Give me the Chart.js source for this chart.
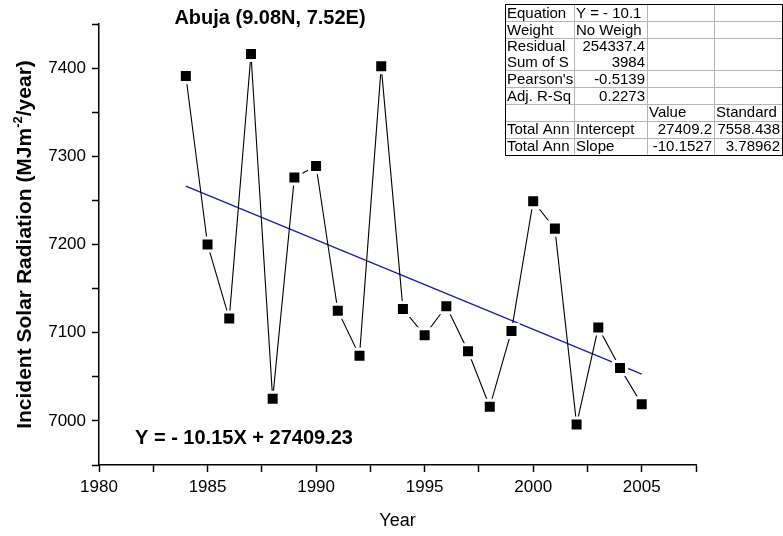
<!DOCTYPE html>
<html>
<head>
<meta charset="utf-8">
<script src="https://cdn.jsdelivr.net/npm/chart.js@4.4.1/dist/chart.umd.min.js"></script>
<style>
  html, body { margin: 0; padding: 0; background: #fff; }
  #wrap { width: 783px; height: 536px; position: relative; }
</style>
</head>
<body>
<div id="wrap"><canvas id="chart"></canvas></div>
<script>
// data
const years = [1984, 1985, 1986, 1987, 1988, 1989, 1990, 1991, 1992, 1993, 1994,
               1995, 1996, 1997, 1998, 1999, 2000, 2001, 2002, 2003, 2004, 2005];
const radiation = [7391, 7200, 7116, 7416, 7025, 7276, 7289, 7125, 7074, 7402, 7127,
                   7097, 7130, 7079, 7016, 7102, 7249, 7218, 6996, 7106, 7060, 7019];
// linear fit end points
const fitYears = [1984, 2005];
const fitValues = [7266.2, 7053.0];

const xRange = [1980, 2007.5];
const yRange = [6950, 7450];

const titleText = 'Abuja (9.08N, 7.52E)';
const xTitle = 'Year';
const yTitleParts = ['Incident Solar Radiation (MJm', '-2', '/year)'];
const equationText = 'Y = - 10.15X + 27409.23';

// fit report table (cells are clipped like in the original)
const tableRows = [
  ['Equation', 'Y = - 10.1', '', ''],
  ['Weight', 'No Weigh', '', ''],
  ['Residual\nSum of S', '254337.4\n3984', '', ''],
  ["Pearson's", '-0.5139', '', ''],
  ['Adj. R-Sq', '0.2273', '', ''],
  ['', '', 'Value', 'Standard'],
  ['Total Ann', 'Intercept', '27409.2', '7558.438'],
  ['Total Ann', 'Slope', '-10.1527', '3.78962']
];
const tableCols = [505, 574, 647, 714, 782];
const tableLines = [4, 21, 38, 70, 87, 104, 120.5, 137.5, 154.5];

const FONT = "'Liberation Sans', Arial, sans-serif";
Chart.defaults.font.family = FONT;
Chart.defaults.color = '#000';

const extras = {
  id: 'extras',
  afterDraw(chart) {
    const ctx = chart.ctx;
    const area = chart.chartArea;
    ctx.save();
    ctx.fillStyle = '#000';

    // title
    ctx.font = 'bold 20px ' + FONT;
    ctx.textAlign = 'center';
    ctx.textBaseline = 'middle';
    ctx.fillText(titleText, 270, 18);

    // x title
    ctx.font = '18px ' + FONT;
    ctx.fillText(xTitle, (area.left + area.right) / 2, 521);

    // y title with superscript
    ctx.save();
    ctx.translate(31, (area.top + area.bottom) / 2);
    ctx.rotate(-Math.PI / 2);
    ctx.textAlign = 'left';
    ctx.textBaseline = 'alphabetic';
    const big = 'bold 21px ' + FONT, small = 'bold 13px ' + FONT;
    ctx.font = big;
    const w0 = ctx.measureText(yTitleParts[0]).width;
    const w2 = ctx.measureText(yTitleParts[2]).width;
    ctx.font = small;
    const w1 = ctx.measureText(yTitleParts[1]).width;
    let x = -(w0 + w1 + w2) / 2;
    ctx.font = big;
    ctx.fillText(yTitleParts[0], x, 0);
    x += w0;
    ctx.font = small;
    ctx.fillText(yTitleParts[1], x, -9);
    x += w1;
    ctx.font = big;
    ctx.fillText(yTitleParts[2], x, 0);
    ctx.restore();

    // equation
    ctx.font = 'bold 20px ' + FONT;
    ctx.textAlign = 'left';
    ctx.textBaseline = 'middle';
    ctx.fillText(equationText, 135, 438);

    // table
    const tTop = tableLines[0], tBottom = tableLines[tableLines.length - 1];
    ctx.fillStyle = '#fff';
    ctx.fillRect(tableCols[0], tTop, tableCols[4] - tableCols[0], tBottom - tTop);
    ctx.strokeStyle = '#b4b4b4';
    ctx.lineWidth = 1;
    tableLines.forEach(y => {
      ctx.beginPath();
      ctx.moveTo(tableCols[0], Math.round(y) + 0.5);
      ctx.lineTo(tableCols[4], Math.round(y) + 0.5);
      ctx.stroke();
    });
    tableCols.forEach(c => {
      ctx.beginPath();
      ctx.moveTo(c + 0.5, tTop);
      ctx.lineTo(c + 0.5, tBottom);
      ctx.stroke();
    });
    ctx.strokeStyle = '#000';
    ctx.strokeRect(tableCols[0] + 0.5, tTop + 0.5, tableCols[4] - tableCols[0], Math.round(tBottom - tTop));

    ctx.font = '15px ' + FONT;
    ctx.fillStyle = '#000';
    ctx.textBaseline = 'middle';
    tableRows.forEach((row, r) => {
      const top = tableLines[r], bottom = tableLines[r + 1];
      row.forEach((cell, c) => {
        if (!cell) return;
        const left = tableCols[c], right = tableCols[c + 1];
        const lines = cell.split('\n');
        const numeric = c > 0 && /^-?[0-9.]+$/.test(lines[lines.length - 1]);
        ctx.save();
        ctx.beginPath();
        ctx.rect(left + 1, top + 1, right - left - 1, bottom - top - 1);
        ctx.clip();
        const lh = (bottom - top) / lines.length;
        lines.forEach((t, k) => {
          const y = top + lh * (k + 0.5) + 1;
          if (numeric) {
            ctx.textAlign = 'right';
            ctx.fillText(t, right - 2, y);
          } else {
            ctx.textAlign = 'left';
            ctx.fillText(t, left + 2, y);
          }
        });
        ctx.restore();
      });
    });
    ctx.restore();
  }
};

new Chart(document.getElementById('chart'), {
  type: 'scatter',
  data: {
    datasets: [
      {
        label: 'Radiation',
        data: years.map((y, i) => ({ x: y, y: radiation[i] })),
        showLine: true,
        borderColor: '#000',
        borderWidth: 1.1,
        backgroundColor: '#000',
        pointStyle: 'rect',
        pointRadius: 9.2,
        pointBorderColor: '#fff',
        pointBorderWidth: 3,
        pointBackgroundColor: '#000',
        order: 1
      },
      {
        label: 'Fit',
        data: fitYears.map((y, i) => ({ x: y, y: fitValues[i] })),
        showLine: true,
        borderColor: '#1c1ca8',
        borderWidth: 1.3,
        pointRadius: 0,
        order: 2
      }
    ]
  },
  options: {
    responsive: true,
    maintainAspectRatio: false,
    animation: false,
    layout: { padding: { top: 24, right: 87, left: 0, bottom: 0 } },
    plugins: {
      legend: { display: false },
      tooltip: { enabled: false },
      title: { display: false }
    },
    scales: {
      x: {
        type: 'linear',
        min: xRange[0],
        max: xRange[1],
        afterFit: s => { s.height = 71; },
        border: { display: true, color: '#000', width: 1.5 },
        grid: { drawOnChartArea: false, drawTicks: true, tickLength: 7, tickColor: '#000', tickWidth: 1.5 },
        ticks: {
          stepSize: 2.5,
          autoSkip: false,
          maxRotation: 0,
          padding: 5,
          font: { size: 17 },
          callback: v => (v % 5 === 0 ? v : '')
        }
      },
      y: {
        min: yRange[0],
        max: yRange[1],
        afterFit: s => { s.width = 99; },
        border: { display: true, color: '#000', width: 1.5 },
        grid: { drawOnChartArea: false, drawTicks: true, tickLength: 7, tickColor: '#000', tickWidth: 1.5 },
        ticks: {
          stepSize: 50,
          autoSkip: false,
          padding: 6,
          font: { size: 17 },
          callback: v => (v % 100 === 0 ? v : '')
        }
      }
    }
  },
  plugins: [extras]
});
</script>
</body>
</html>
